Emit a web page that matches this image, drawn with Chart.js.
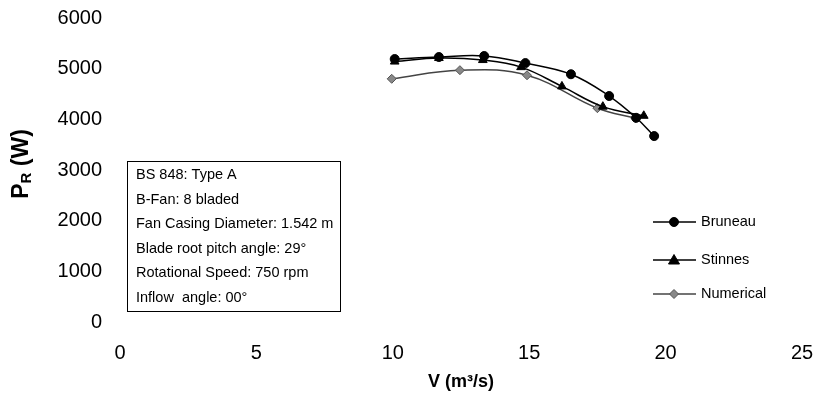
<!DOCTYPE html>
<html>
<head>
<meta charset="utf-8">
<script src="https://cdn.jsdelivr.net/npm/chart.js@4"></script>
<style>
html,body{margin:0;padding:0;background:#fff;}
#wrap{width:817px;height:397px;position:relative;}
</style>
</head>
<body>
<div id="wrap"><canvas id="c" width="817" height="397"></canvas></div>
<script>
// ---- data ----
const seriesNames = ["Bruneau", "Stinnes", "Numerical"];
const vBruneau = [10.07, 11.69, 13.35, 14.86, 16.53, 17.93, 18.92, 19.58];
const pBruneau = [5190, 5230, 5250, 5110, 4890, 4460, 4030, 3670];
const vStinnes = [10.07, 11.69, 13.3, 14.7, 16.2, 17.7, 19.2];
const pStinnes = [5140, 5210, 5170, 5030, 4650, 4250, 4070];
const vNumerical = [9.96, 12.46, 14.92, 17.5, 18.9];
const pNumerical = [4800, 4970, 4870, 4220, 4020];
const xTicks = [0, 5, 10, 15, 20, 25];
const yTicks = [0, 1000, 2000, 3000, 4000, 5000, 6000];
const infoLines = [
  "BS 848: Type A",
  "B-Fan: 8 bladed",
  "Fan Casing Diameter: 1.542 m",
  "Blade root pitch angle: 29\u00b0",
  "Rotational Speed: 750 rpm",
  "Inflow  angle: 00\u00b0"
];
const xTitle = "V (m\u00b3/s)";

const FONT = "'Liberation Sans', Arial, sans-serif";
const toXY = (xs, ys) => xs.map((x, i) => ({x: x, y: ys[i]}));

const infoBox = {
  id: 'infoBox',
  afterDraw(chart) {
    const ctx = chart.ctx;
    ctx.save();
    const L = 127.5, T = 161.5, W = 213, H = 150;
    ctx.fillStyle = '#fff';
    ctx.fillRect(L, T, W, H);
    ctx.strokeStyle = '#000';
    ctx.lineWidth = 1;
    ctx.strokeRect(L, T, W, H);
    ctx.fillStyle = '#000';
    ctx.font = '14.5px ' + FONT;
    ctx.textBaseline = 'middle';
    ctx.textAlign = 'left';
    infoLines.forEach((s, i) => ctx.fillText(s, 136, 175 + i * 24.5));
    ctx.restore();
  }
};

function drawMarker(ctx, style, x, y, r, fill, stroke) {
  ctx.beginPath();
  if (style === 'circle') {
    ctx.arc(x, y, r, 0, Math.PI * 2);
  } else if (style === 'triangle') {
    ctx.moveTo(x, y - r * 1.1);
    ctx.lineTo(x + r * 1.1, y + r * 0.8);
    ctx.lineTo(x - r * 1.1, y + r * 0.8);
    ctx.closePath();
  } else {
    ctx.moveTo(x, y - r);
    ctx.lineTo(x + r, y);
    ctx.lineTo(x, y + r);
    ctx.lineTo(x - r, y);
    ctx.closePath();
  }
  ctx.fillStyle = fill;
  ctx.fill();
  ctx.strokeStyle = stroke;
  ctx.lineWidth = 1;
  ctx.stroke();
}

const legendPlugin = {
  id: 'customLegend',
  afterDraw(chart) {
    const ctx = chart.ctx;
    ctx.save();
    const rows = [222, 260, 294];
    chart.data.datasets.forEach((ds, i) => {
      const y = rows[i];
      ctx.strokeStyle = ds.borderColor;
      ctx.lineWidth = 1.5;
      ctx.beginPath();
      ctx.moveTo(653, y);
      ctx.lineTo(696, y);
      ctx.stroke();
      drawMarker(ctx, ds.pointStyle, 674, y, ds.pointRadius, ds.pointBackgroundColor, ds.pointBorderColor);
      ctx.fillStyle = '#000';
      ctx.font = '14.5px ' + FONT;
      ctx.textBaseline = 'middle';
      ctx.textAlign = 'left';
      ctx.fillText(ds.label, 701, y);
    });
    ctx.restore();
  }
};

const titles = {
  id: 'titles',
  afterDraw(chart) {
    const ctx = chart.ctx;
    ctx.save();
    ctx.fillStyle = '#000';
    // x title
    ctx.font = 'bold 18px ' + FONT;
    ctx.textAlign = 'center';
    ctx.textBaseline = 'middle';
    ctx.fillText(xTitle, 461, 382);
    // y title: P with subscript R, rotated
    ctx.translate(22, 164);
    ctx.rotate(-Math.PI / 2);
    ctx.textAlign = 'left';
    ctx.textBaseline = 'middle';
    const big = 'bold 23px ' + FONT, small = 'bold 15px ' + FONT;
    ctx.font = big; const wP = ctx.measureText('P').width;
    ctx.font = small; const wR = ctx.measureText('R').width;
    ctx.font = big; const wRest = ctx.measureText(' (W)').width;
    const total = wP + wR + wRest;
    let x0 = -total / 2;
    ctx.font = big; ctx.fillText('P', x0, 0); x0 += wP;
    ctx.font = small; ctx.fillText('R', x0, 5); x0 += wR;
    ctx.font = big; ctx.fillText(' (W)', x0, 0);
    ctx.restore();
  }
};

const ds = (label, xs, ys, style, r, fill, stroke, line, order) => ({
  label: label,
  data: toXY(xs, ys),
  borderColor: line,
  borderWidth: 1.5,
  pointStyle: style,
  pointRadius: r,
  pointBackgroundColor: fill,
  pointBorderColor: stroke,
  pointBorderWidth: 1,
  tension: 0.4,
  fill: false,
  showLine: true,
  order: order
});

new Chart(document.getElementById('c'), {
  type: 'scatter',
  data: {
    datasets: [
      ds(seriesNames[0], vBruneau, pBruneau, 'circle', 4.5, '#000', '#000', '#000', 1),
      ds(seriesNames[1], vStinnes, pStinnes, 'triangle', 5, '#000', '#000', '#000', 2),
      ds(seriesNames[2], vNumerical, pNumerical, 'rectRot', 4.5, '#888', '#555', '#444', 3)
    ]
  },
  options: {
    responsive: false,
    animation: false,
    devicePixelRatio: 1,
    layout: {padding: {top: 18, right: 15, bottom: 0, left: 0}},
    plugins: {legend: {display: false}, tooltip: {enabled: false}},
    scales: {
      x: {
        type: 'linear', min: 0, max: 25,
        grid: {display: false}, border: {display: false},
        afterBuildTicks: s => { s.ticks = xTicks.map(v => ({value: v})); },
        afterFit: s => { s.height = 75; s.paddingLeft = 0; s.paddingRight = 0; },
        ticks: {color: '#000', font: {family: FONT, size: 20}, padding: 11, maxRotation: 0,
                callback: v => String(v)}
      },
      y: {
        type: 'linear', min: 0, max: 6000,
        grid: {display: false}, border: {display: false},
        afterBuildTicks: s => { s.ticks = yTicks.map(v => ({value: v})); },
        afterFit: s => { s.width = 120; s.paddingTop = 0; s.paddingBottom = 0; },
        ticks: {color: '#000', font: {family: FONT, size: 20}, padding: 10,
                callback: v => String(v)}
      }
    }
  },
  plugins: [infoBox, legendPlugin, titles]
});
</script>
</body>
</html>
